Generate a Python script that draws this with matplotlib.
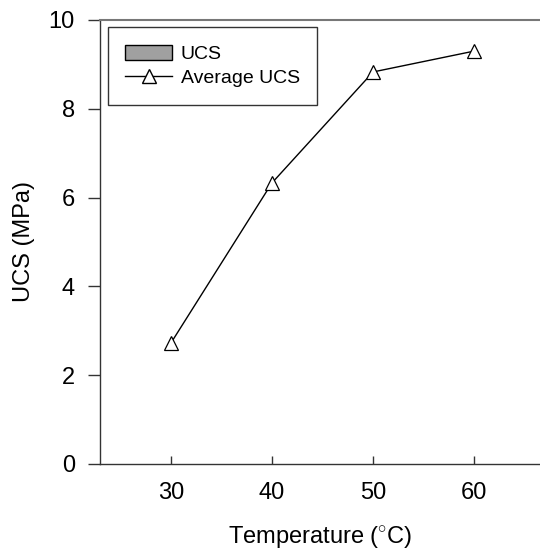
import matplotlib
matplotlib.use("Agg")
import matplotlib.pyplot as plt
from matplotlib.patches import Patch
from matplotlib.lines import Line2D

plt.rcParams['font.family'] = ['Liberation Sans', 'DejaVu Sans']
plt.rcParams['mathtext.fontset'] = 'custom'
plt.rcParams['mathtext.rm'] = 'Liberation Sans'

temperature = [30, 40, 50, 60]
avg_ucs = [2.72, 6.33, 8.83, 9.30]
x_ticks = [30, 40, 50, 60]
y_ticks = [0, 2, 4, 6, 8, 10]

fig = plt.figure(figsize=(5.4, 5.52), dpi=100)
ax = fig.add_axes([100 / 540, 88 / 552, 440 / 540, 444 / 552])

ax.plot(temperature, avg_ucs, color='black', lw=1.0, marker='^', markersize=9.5,
        markerfacecolor='white', markeredgecolor='black', markeredgewidth=0.9, clip_on=False)

ax.set_xlim(23, 66.5)
ax.set_ylim(0, 10)
ax.set_xticks(x_ticks)
ax.set_yticks(y_ticks)
ax.tick_params(axis='x', direction='in', length=6, labelsize=17, pad=13, width=1, color='#333333')
ax.tick_params(axis='y', direction='out', length=9, labelsize=17, pad=9, width=1, color='#333333')

ax.spines['right'].set_visible(False)
ax.spines['top'].set_color('#777777')
ax.spines['top'].set_linewidth(1.5)
for s in ['left', 'bottom']:
    ax.spines[s].set_color('#333333')
    ax.spines[s].set_linewidth(1.0)

ax.set_xlabel(r'Temperature ($^{\circ}$C)', fontsize=17, labelpad=15)
ax.set_ylabel('UCS (MPa)', fontsize=17, labelpad=10)

handles = [Patch(facecolor='#a0a0a0', edgecolor='black', linewidth=1.0),
           Line2D([0], [0], color='black', lw=1.0, marker='^', markersize=10,
                  markerfacecolor='white', markeredgecolor='black')]
leg = ax.legend(handles, ['UCS', 'Average UCS'], loc='upper left',
                bbox_to_anchor=(0.018, 0.984), borderaxespad=0, fontsize=14,
                frameon=True, fancybox=False, edgecolor='black',
                handlelength=2.4, handleheight=0.82,
                labelspacing=0.3, borderpad=0.9, handletextpad=0.45)
leg.get_frame().set_linewidth(1.0)

fig.savefig('out.png', dpi=100)
